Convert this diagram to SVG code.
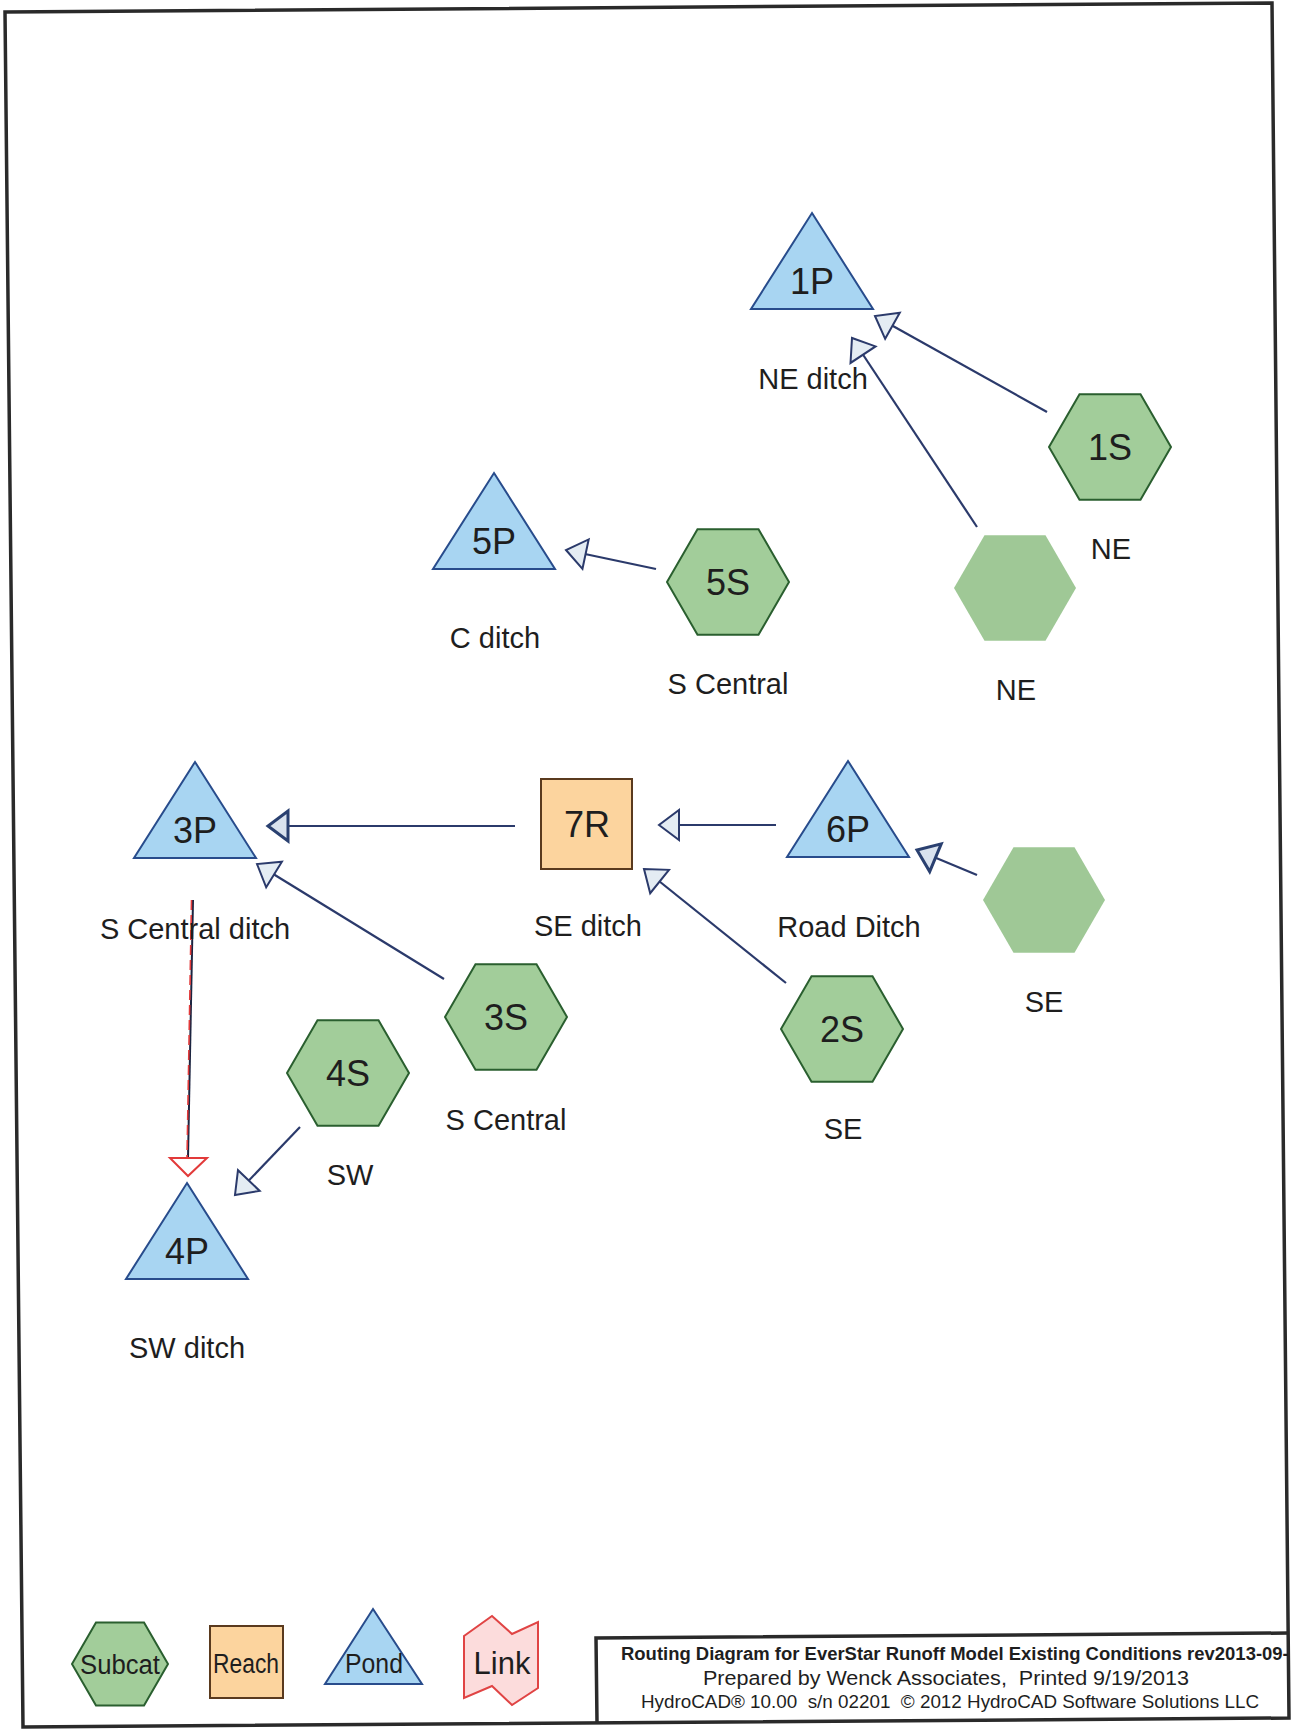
<svg xmlns="http://www.w3.org/2000/svg" width="1291" height="1732" viewBox="0 0 1291 1732">
<style>
.t{font-family:"Liberation Sans",Arial,sans-serif;fill:#1e1e1e}
.nl{font-size:36px;text-anchor:middle}
.lb{font-size:29px;text-anchor:middle}
.lg{font-size:27px;text-anchor:middle}
.hex{fill:#a2cd9a;stroke:#2a5f2f;stroke-width:2}
.hexn{fill:#9fc896}
.pond{fill:#a8d5f2;stroke:#284c8c;stroke-width:2}
.reach{fill:#fcd49e;stroke:#5a3a1e;stroke-width:2}
.conn{stroke:#2b3a6b;stroke-width:2.2;fill:none}
.frame{fill:none;stroke:#2a2a2a;stroke-width:3.5}
</style>
<defs>
<path id="hx" d="M-61,0 L-30.5,-52.8 L30.5,-52.8 L61,0 L30.5,52.8 L-30.5,52.8 Z"/>
<path id="tri" d="M0,0 L61,96 L-61,96 Z"/>
<marker id="ah" markerUnits="userSpaceOnUse" viewBox="-24 -18 26 36" refX="0" refY="0" markerWidth="26" markerHeight="36" orient="auto" overflow="visible">
<path d="M0,0 L-20,-15 L-20,15 Z" fill="#e4ecf3" stroke="#2b3a6b" stroke-width="2"/>
</marker>
<marker id="ah2" markerUnits="userSpaceOnUse" viewBox="-24 -18 26 36" refX="0" refY="0" markerWidth="26" markerHeight="36" orient="auto" overflow="visible">
<path d="M0,0 L-20,-15 L-20,15 Z" fill="#d9e2ee" stroke="#2a4070" stroke-width="3"/>
</marker>
<clipPath id="tc"><rect x="597" y="1634" width="691" height="88"/></clipPath>
</defs>

<polygon class="frame" points="5,12 1272,3 1289,1718 23,1727"/>
<polyline class="frame" points="1289,1633 596,1638 597,1722"/>

<g id="connectors">
<line class="conn" x1="1047" y1="412" x2="875" y2="316" marker-end="url(#ah)"/>
<line class="conn" x1="977" y1="527" x2="852" y2="338" marker-end="url(#ah)"/>
<line class="conn" x1="656" y1="569" x2="566" y2="550" marker-end="url(#ah)"/>
<line class="conn" x1="515" y1="826" x2="268" y2="826" marker-end="url(#ah2)"/>
<line class="conn" x1="444" y1="979" x2="257" y2="864" marker-end="url(#ah)"/>
<line class="conn" x1="776" y1="825" x2="659" y2="825" marker-end="url(#ah)"/>
<line class="conn" x1="786" y1="983" x2="644" y2="869" marker-end="url(#ah)"/>
<line class="conn" x1="977" y1="875" x2="917" y2="850" marker-end="url(#ah2)"/>
<line class="conn" x1="300" y1="1127" x2="235" y2="1195" marker-end="url(#ah)"/>
<line x1="193" y1="900" x2="188" y2="1158" stroke="#1c2440" stroke-width="2"/>
<line x1="191.5" y1="900" x2="187" y2="1158" stroke="#e23a3a" stroke-width="1.6" stroke-dasharray="10 5"/>
<polygon points="170,1158 207,1158 188,1176" fill="#ffffff" stroke="#e23a3a" stroke-width="2"/>
</g>

<g id="n1P"><use href="#tri" x="812" y="213" class="pond"/><text class="t nl" x="812" y="294">1P</text><text class="t lb" x="813" y="389">NE ditch</text></g>
<g id="n1S"><use href="#hx" x="1110" y="447" class="hex"/><text class="t nl" x="1110" y="460">1S</text><text class="t lb" x="1111" y="559">NE</text></g>
<g id="nNE"><use href="#hx" x="1015" y="588" class="hexn"/><text class="t lb" x="1016" y="700">NE</text></g>
<g id="n5P"><use href="#tri" x="494" y="473" class="pond"/><text class="t nl" x="494" y="554">5P</text><text class="t lb" x="495" y="648">C ditch</text></g>
<g id="n5S"><use href="#hx" x="728" y="582" class="hex"/><text class="t nl" x="728" y="595">5S</text><text class="t lb" x="728" y="694">S Central</text></g>
<g id="n3P"><use href="#tri" x="195" y="762" class="pond"/><text class="t nl" x="195" y="843">3P</text><text class="t lb" x="195" y="939">S Central ditch</text></g>
<g id="n7R"><rect x="541" y="779" width="91" height="90" class="reach"/><text class="t nl" x="587" y="837">7R</text><text class="t lb" x="588" y="936">SE ditch</text></g>
<g id="n6P"><use href="#tri" x="848" y="761" class="pond"/><text class="t nl" x="848" y="842">6P</text><text class="t lb" x="849" y="937">Road Ditch</text></g>
<g id="nSE"><use href="#hx" x="1044" y="900" class="hexn"/><text class="t lb" x="1044" y="1012">SE</text></g>
<g id="n3S"><use href="#hx" x="506" y="1017" class="hex"/><text class="t nl" x="506" y="1030">3S</text><text class="t lb" x="506" y="1130">S Central</text></g>
<g id="n2S"><use href="#hx" x="842" y="1029" class="hex"/><text class="t nl" x="842" y="1042">2S</text><text class="t lb" x="843" y="1139">SE</text></g>
<g id="n4S"><use href="#hx" x="348" y="1073" class="hex"/><text class="t nl" x="348" y="1086">4S</text><text class="t lb" x="350" y="1185">SW</text></g>
<g id="n4P"><use href="#tri" x="187" y="1183" class="pond"/><text class="t nl" x="187" y="1264">4P</text><text class="t lb" x="187" y="1358">SW ditch</text></g>

<g id="legend">
<path class="hex" d="M72,1664 L96,1622.4 L144,1622.4 L168,1664 L144,1705.6 L96,1705.6 Z"/>
<text class="t lg" x="120" y="1674" textLength="80" lengthAdjust="spacingAndGlyphs">Subcat</text>
<rect class="reach" x="210" y="1626" width="73" height="72"/>
<text class="t lg" x="246" y="1673" textLength="66" lengthAdjust="spacingAndGlyphs">Reach</text>
<path class="pond" d="M373,1609 L422,1684 L325,1684 Z"/>
<text class="t lg" x="374" y="1673" textLength="58" lengthAdjust="spacingAndGlyphs">Pond</text>
<polygon points="464,1636 492,1616 512,1634 538,1622 538,1688 512,1705 492,1686 464,1698" fill="#fcdcdc" stroke="#e04444" stroke-width="2"/>
<text class="t" x="502" y="1674" font-size="31" text-anchor="middle">Link</text>
</g>

<g id="title" clip-path="url(#tc)">
<text class="t" x="621" y="1660" font-size="18" font-weight="bold" textLength="678" lengthAdjust="spacingAndGlyphs">Routing Diagram for EverStar Runoff Model Existing Conditions rev2013-09-1</text>
<text class="t" x="946" y="1685" font-size="20.5" text-anchor="middle" style="white-space:pre" textLength="486" lengthAdjust="spacingAndGlyphs">Prepared by Wenck Associates,  Printed 9/19/2013</text>
<text class="t" x="950" y="1708" font-size="18" text-anchor="middle" style="white-space:pre" textLength="618" lengthAdjust="spacingAndGlyphs">HydroCAD® 10.00  s/n 02201  © 2012 HydroCAD Software Solutions LLC</text>
</g>
</svg>
